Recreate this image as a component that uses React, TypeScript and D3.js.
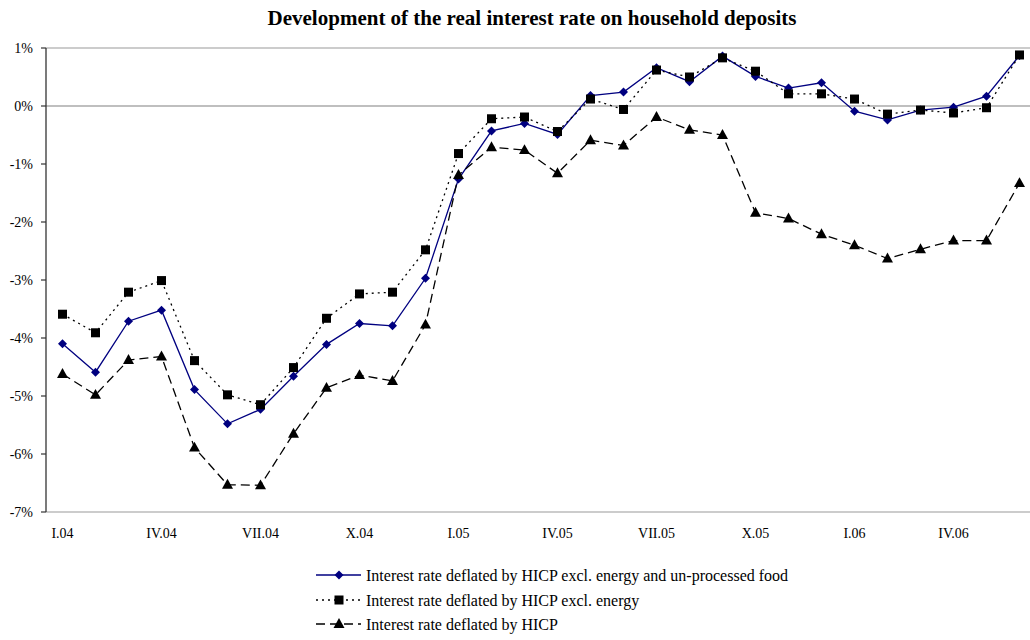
import React from "react";
import * as d3 from "d3";

const categories = [
  "I.04","II.04","III.04","IV.04","V.04","VI.04","VII.04","VIII.04","IX.04","X.04","XI.04","XII.04",
  "I.05","II.05","III.05","IV.05","V.05","VI.05","VII.05","VIII.05","IX.05","X.05","XI.05","XII.05",
  "I.06","II.06","III.06","IV.06","V.06","VI.06",
];
const tickLabels = ["I.04","IV.04","VII.04","X.04","I.05","IV.05","VII.05","X.05","I.06","IV.06"];

const exclEnergyFood = [
  -4.10,-4.59,-3.71,-3.52,-4.89,-5.48,-5.23,-4.66,-4.11,-3.75,-3.79,-2.97,
  -1.26,-0.43,-0.30,-0.49,0.18,0.24,0.66,0.42,0.86,0.51,0.31,0.40,
  -0.09,-0.24,-0.07,-0.02,0.17,0.87,
];
const exclEnergy = [
  -3.59,-3.91,-3.21,-3.01,-4.39,-4.98,-5.15,-4.51,-3.66,-3.24,-3.21,-2.48,
  -0.82,-0.22,-0.19,-0.44,0.12,-0.06,0.62,0.50,0.83,0.60,0.21,0.21,
  0.12,-0.14,-0.07,-0.12,-0.03,0.88,
];
const hicp = [
  -4.62,-4.98,-4.38,-4.32,-5.89,-6.53,-6.54,-5.65,-4.86,-4.64,-4.74,-3.77,
  -1.19,-0.71,-0.76,-1.16,-0.59,-0.68,-0.19,-0.41,-0.50,-1.84,-1.94,-2.21,
  -2.40,-2.63,-2.47,-2.32,-2.32,-1.33,
];
const yTicks = [1, 0, -1, -2, -3, -4, -5, -6, -7];
const legendLabels = [
  "Interest rate deflated by HICP excl. energy and un-processed food",
  "Interest rate deflated by HICP excl. energy",
  "Interest rate deflated by HICP",
];

const FONT = "'Liberation Serif', 'Times New Roman', serif";
const NAVY = "#000080";

function Diamond({ x, y, r, fill }: { x: number; y: number; r: number; fill: string }) {
  return <path d={`M${x},${y - r}L${x + r},${y}L${x},${y + r}L${x - r},${y}Z`} fill={fill} />;
}
function Square({ x, y, s }: { x: number; y: number; s: number }) {
  return <rect x={x - s / 2} y={y - s / 2} width={s} height={s} fill="#000" />;
}
function Triangle({ x, y, s }: { x: number; y: number; s: number }) {
  const h = s * 0.9;
  return <path d={`M${x},${y - h * 0.6}L${x + s / 2},${y + h * 0.4}L${x - s / 2},${y + h * 0.4}Z`} fill="#000" />;
}

export default function App() {
  const W = 1030, H = 640;
  const left = 46, right = 1036, top = 48, bottom = 512;
  const x = d3.scaleBand<string>().domain(categories).range([left, right]);
  const cx = (c: string) => (x(c) as number) + x.bandwidth() / 2;
  const y = d3.scaleLinear().domain([-7, 1]).range([bottom, top]);

  const line = d3.line<number>().x((_, i) => cx(categories[i])).y((d) => y(d));

  const series = [
    { data: exclEnergyFood, color: NAVY, width: 1.3, dash: undefined as string | undefined, marker: "diamond" },
    { data: exclEnergy, color: "#000", width: 1.3, dash: "2,4", marker: "square" },
    { data: hicp, color: "#000", width: 1.3, dash: "9,5", marker: "triangle" },
  ];

  const marker = (m: string, px: number, py: number, key: any) =>
    m === "diamond" ? <Diamond key={key} x={px} y={py} r={4.5} fill={NAVY} /> :
    m === "square" ? <Square key={key} x={px} y={py} s={9} /> :
    <Triangle key={key} x={px} y={py} s={11} />;

  return (
    <svg width={W} height={H} style={{ position: "absolute", left: 0, top: 0, background: "#fff" }} fontFamily={FONT}>
      <rect width={W} height={H} fill="#fff" />
      <text x={532} y={25} textAnchor="middle" fontSize={21} fontWeight="bold">
        Development of the real interest rate on household deposits
      </text>
      {/* gridlines */}
      <line x1={left} x2={right} y1={y(1)} y2={y(1)} stroke="#999" strokeWidth={1.2} />
      <line x1={left} x2={right} y1={y(0)} y2={y(0)} stroke="#808080" strokeWidth={1.2} />
      <line x1={left} x2={right} y1={y(-7)} y2={y(-7)} stroke="#999" strokeWidth={1.2} />
      {/* y axis */}
      <line x1={left} x2={left} y1={top} y2={bottom} stroke="#333" strokeWidth={1.3} />
      {yTicks.map((t) => (
        <g key={t}>
          <line x1={left - 5} x2={left} y1={y(t)} y2={y(t)} stroke="#333" strokeWidth={1.2} />
          <text x={33} y={y(t)} dy="0.35em" textAnchor="end" fontSize={14}>{`${t}%`}</text>
        </g>
      ))}
      {tickLabels.map((c) => (
        <text key={c} x={cx(c)} y={538} textAnchor="middle" fontSize={14}>{c}</text>
      ))}
      {series.map((s, si) => (
        <g key={si}>
          <path d={line(s.data) || ""} fill="none" stroke={s.color} strokeWidth={s.width} strokeDasharray={s.dash} />
          {s.data.map((v, i) => marker(s.marker, cx(categories[i]), y(v), i))}
        </g>
      ))}
      {/* legend */}
      {series.map((s, i) => {
        const ly = [575, 600, 624][i];
        return (
          <g key={i}>
            <line x1={316} x2={361} y1={ly} y2={ly} stroke={s.color} strokeWidth={s.width} strokeDasharray={s.dash} />
            {marker(s.marker, 339, ly, "m")}
            <text x={366} y={ly} dy="0.35em" fontSize={16}>{legendLabels[i]}</text>
          </g>
        );
      })}
    </svg>
  );
}
